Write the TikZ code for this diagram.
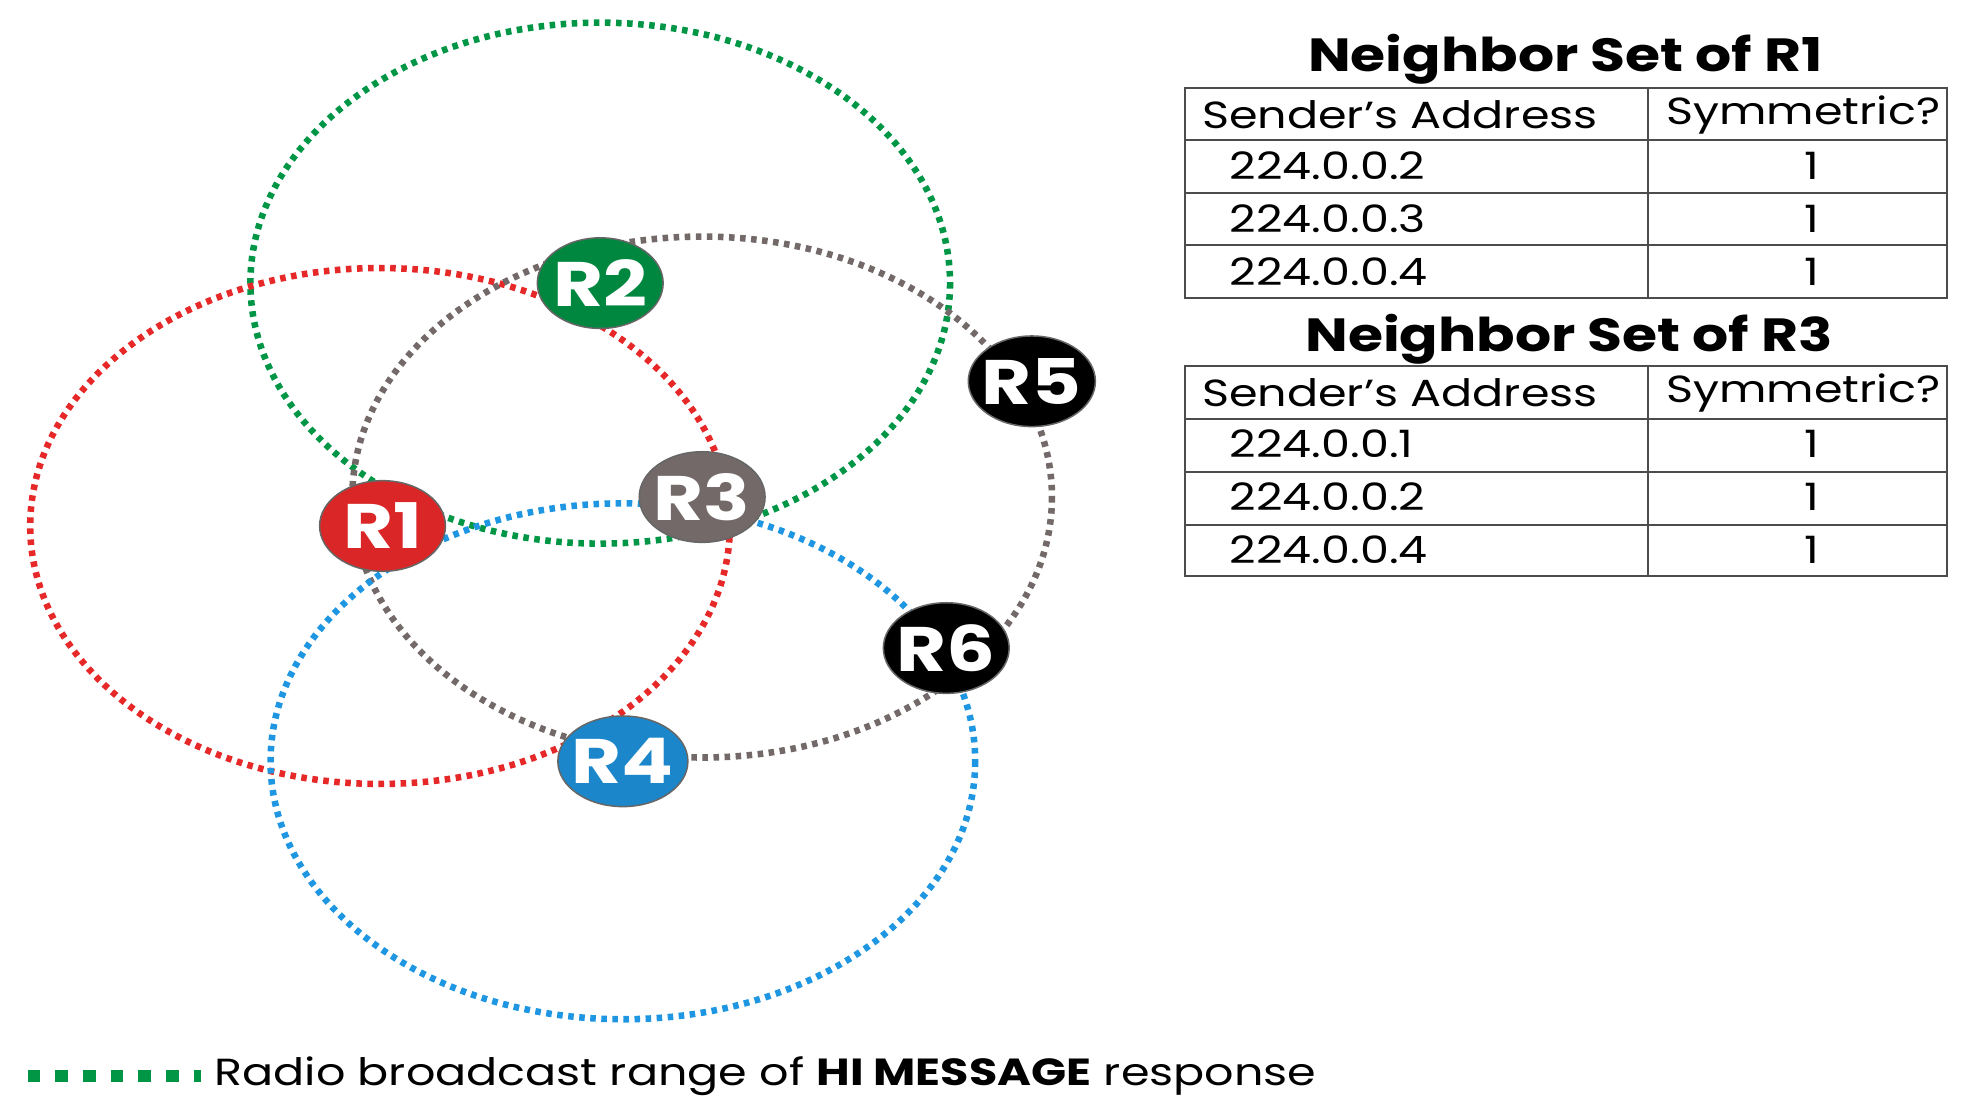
\documentclass[tikz,border=0pt]{standalone}
\usepackage{fontspec}
\setmainfont[FakeStretch=1.22]{Poppins}
\usetikzlibrary{shapes.geometric}
\begin{document}
\definecolor{cg}{RGB}{0,150,70}
\definecolor{cr}{RGB}{230,40,40}
\definecolor{cy}{RGB}{115,105,105}
\definecolor{cb}{RGB}{30,150,225}
\begin{tikzpicture}[x=0.5pt,y=-0.5pt,
  rng/.style={line width=2.6pt,dash pattern=on 2.2pt off 2.2pt},
  rt/.style={ellipse,minimum width=50pt,minimum height=36pt,inner sep=-2pt,text=white,font=\fontsize{25}{25}\selectfont\bfseries,draw=black!60,line width=0.6pt},
  cell/.style={font=\fontsize{15}{15}\selectfont,anchor=west,inner sep=0pt},
  title/.style={font=\fontsize{18.5}{18.5}\selectfont\bfseries}]
\useasboundingbox (0,0) rectangle (1560,888);
\draw[rng,cg] (477,225) ellipse [x radius=278,y radius=207];
\draw[rng,cr] (302,418) ellipse [x radius=278,y radius=205];
\draw[rng,cy] (558,395) ellipse [x radius=278,y radius=207];
\draw[rng,cb] (495,605) ellipse [x radius=280,y radius=205];
\node[rt,fill=cg!90!black] (R2) at (477,225) {R2};
\node[rt,fill=cr!95!black] (R1) at (304,418) {R1};
\node[rt,fill=cy] (R3) at (558,395) {R3};
\node[rt,fill=cb!90!black] (R4) at (495,605) {R4};
\node[rt,fill=black] (R5) at (820,303) {R5};
\node[rt,fill=black] (R6) at (752,515) {R6};
% table 1
\node[title] (t1) at (1244,47) {Neighbor Set of R1};
\draw[line width=0.8pt,black!70] (942,70) rectangle (1547,237);
\foreach \y in {111,153,195} \draw[line width=0.8pt,black!70] (942,\y) -- (1547,\y);
\draw[line width=0.8pt,black!70] (1310,70) -- (1310,237);
\node[cell] (a1) at (955,91) {Sender’s Address};
\node[cell] (b1) at (1324,91) {Symmetric?};
\node[cell] (a2) at (977,132) {224.0.0.2};
\node[cell] (a3) at (977,174) {224.0.0.3};
\node[cell] (a4) at (977,216) {224.0.0.4};
\foreach \y in {132,174,216} \node[font=\fontsize{15}{15}\selectfont] at (1440,\y) {1};
% table 2
\node[title] (t2) at (1247,270) {Neighbor Set of R3};
\draw[line width=0.8pt,black!70] (942,291) rectangle (1547,458);
\foreach \y in {333,375,417} \draw[line width=0.8pt,black!70] (942,\y) -- (1547,\y);
\draw[line width=0.8pt,black!70] (1310,291) -- (1310,458);
\node[cell] (c1) at (955,312) {Sender’s Address};
\node[cell] (d1) at (1324,312) {Symmetric?};
\node[cell] (c2) at (977,353) {224.0.0.1};
\node[cell] (c3) at (977,395) {224.0.0.2};
\node[cell] (c4) at (977,437) {224.0.0.4};
\foreach \y in {353,395,437} \node[font=\fontsize{15}{15}\selectfont] at (1440,\y) {1};
% legend
\draw[cg,line width=5pt,dash pattern=on 5pt off 6pt] (22,855) -- (160,855);
\node[anchor=west,font=\fontsize{15}{15}\selectfont,inner sep=0pt] (lg) at (170,855) {Radio broadcast range of \textbf{HI MESSAGE} response};
\end{tikzpicture}
\end{document}
